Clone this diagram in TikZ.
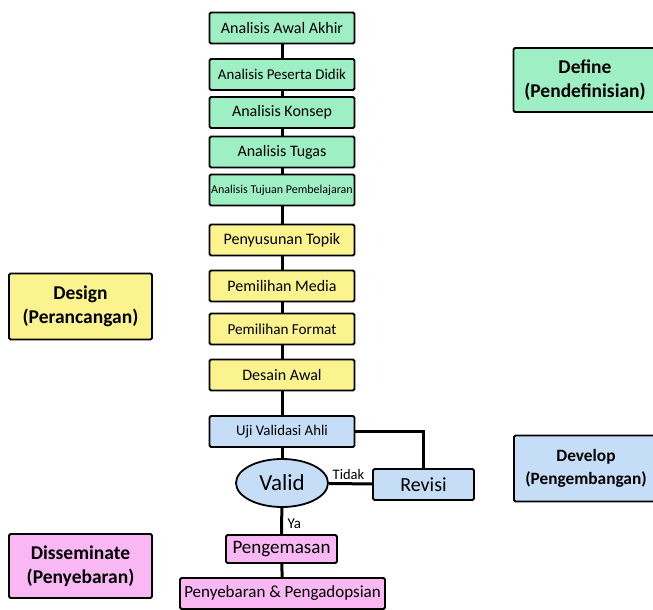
\documentclass[tikz,border=0pt]{standalone}
\usepackage{fontspec}
\setmainfont{Carlito}
\usepackage{tikz}
\usetikzlibrary{positioning, calc, shapes}

\definecolor{defgreen}{HTML}{9EF0C4}
\definecolor{desyellow}{HTML}{FBF38D}
\definecolor{devblue}{HTML}{C6DDF7}
\definecolor{dispink}{HTML}{F9B8F4}

\begin{document}
\begin{tikzpicture}[x=1pt, y=-1pt]
  \tikzstyle{stepbox}=[draw, line width=1.8pt, rounded corners=1.5pt, minimum width=145pt, minimum height=31pt, inner sep=0pt, font=\fontsize{16}{18}\selectfont]
  \tikzstyle{phase}=[draw, line width=1.8pt, rounded corners=1.5pt, minimum width=143pt, minimum height=66pt, align=center, font=\fontsize{19.5}{24}\selectfont\bfseries]
  \tikzstyle{link}=[line width=3pt]
  \useasboundingbox (0,0) rectangle (653,610);

  % define
  \node (a1) at (282,28) [stepbox, fill=defgreen] {Analisis Awal Akhir};
  \node (a2) at (282,74.5) [stepbox, fill=defgreen, font=\fontsize{14.9}{17}\selectfont] {Analisis Peserta Didik};
  \node (a3) at (282,112.5) [stepbox, fill=defgreen] {Analisis Konsep};
  \node (a4) at (282,152) [stepbox, fill=defgreen] {Analisis Tugas};
  \node (a5) at (282,190) [stepbox, fill=defgreen, font=\fontsize{12}{14}\selectfont] {Analisis Tujuan Pembelajaran};

  % design
  \node (b1) at (282,240) [stepbox, fill=desyellow] {Penyusunan Topik};
  \node (b2) at (282,286) [stepbox, fill=desyellow] {Pemilihan Media};
  \node (b3) at (282,329) [stepbox, fill=desyellow, font=\fontsize{15.2}{18}\selectfont] {Pemilihan Format};
  \node (b4) at (282,375) [stepbox, fill=desyellow] {Desain Awal};

  % develop
  \node (c1) at (282,431.5) [stepbox, fill=devblue, font=\fontsize{14.8}{17}\selectfont] {Uji Validasi Ahli};
  \node (valid) at (282,483) [draw, ellipse, line width=1.8pt, fill=devblue, minimum width=92pt, minimum height=48pt, inner sep=0pt, font=\fontsize{23}{26}\selectfont] {Valid};
  \node (revisi) at (423.5,484.5) [stepbox, fill=devblue, minimum width=101pt, font=\fontsize{20}{23}\selectfont] {Revisi};

  % disseminate
  \node (d1) at (281.5,549) [stepbox, fill=dispink, minimum width=111pt, minimum height=28pt, font=\fontsize{19}{21}\selectfont] {Pengemasan};
  \node (d2) at (282.5,593.5) [stepbox, fill=dispink, minimum width=205pt, font=\fontsize{17}{19}\selectfont] {Penyebaran \& Pengadopsian};

  % connections
  \foreach \i/\j in {a1/a2, a2/a3, a3/a4, a4/a5, a5/b1, b1/b2, b2/b3, b3/b4, b4/c1, c1/valid, d1/d2}
    \draw[link] (\i) -- (\j);
  \draw[link] (valid) -- node [right, xshift=1pt, yshift=-3pt, font=\fontsize{15}{17}\selectfont] {Ya} (d1);
  \draw[link] (valid) -- node [above, xshift=-2pt, yshift=-1pt, font=\fontsize{14.5}{16}\selectfont] {Tidak} (revisi);
  \draw[link] (c1.east) -| (revisi.north);

  % phase labels (right ones run past the page edge)
  \node (define) at (585,80) [phase, fill=defgreen, minimum height=64pt] {Define\\(Pendefinisian)};
  \node (design) at (80.5,306.5) [phase, fill=desyellow] {Design\\(Perancangan)};
  \node (develop) at (586,468.5) [phase, fill=devblue, minimum width=144pt, font=\fontsize{17.3}{23}\selectfont\bfseries] {Develop\\(Pengembangan)};
  \node (disseminate) at (80.5,566) [phase, fill=dispink, minimum height=64pt] {Disseminate\\(Penyebaran)};
\end{tikzpicture}
\end{document}
